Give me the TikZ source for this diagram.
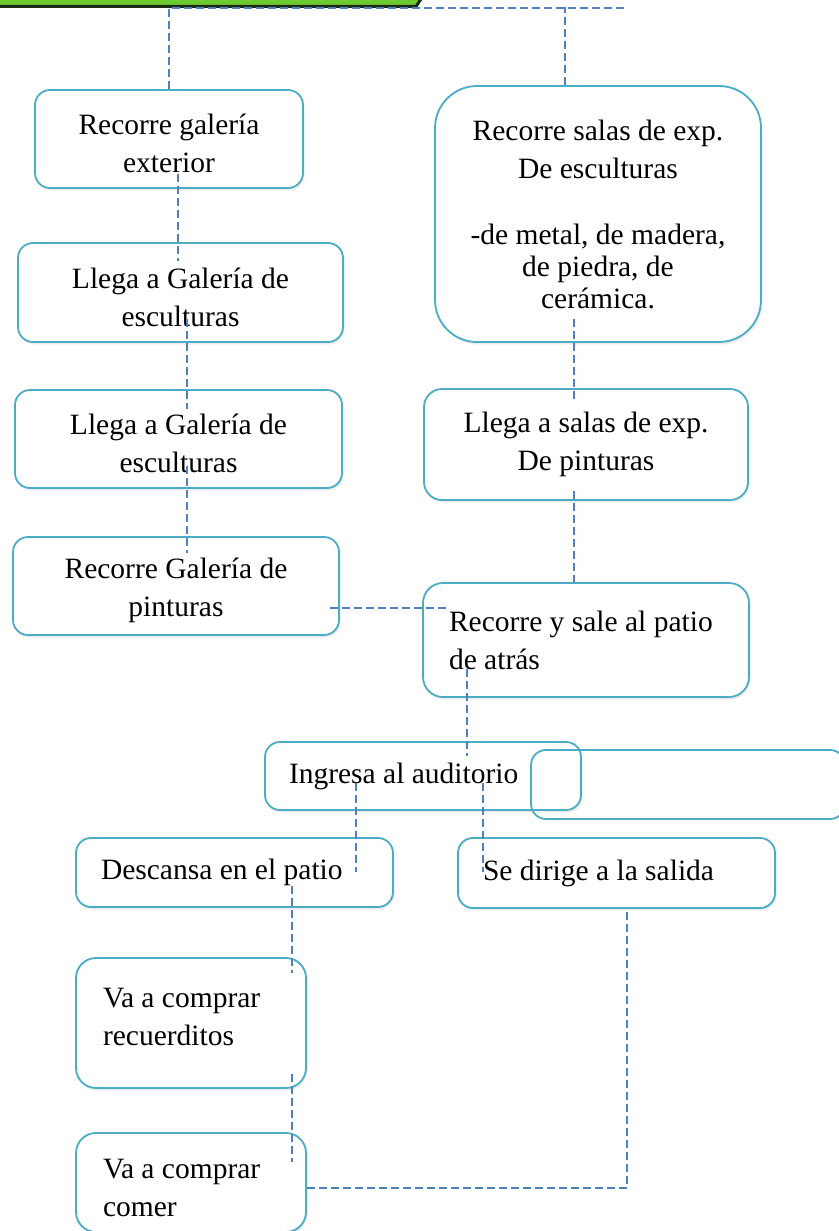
\documentclass[tikz,border=0pt]{standalone}
\usepackage{fontspec}
\setmainfont{Liberation Serif}
\usepackage{xcolor}
\definecolor{cBox}{HTML}{4BACC6}
\definecolor{cLink}{HTML}{4F81BD}
\definecolor{cGreen}{HTML}{6CC92E}
\definecolor{cDark}{HTML}{1B2A12}
\usepackage{tikz}
\usetikzlibrary{positioning,calc,shadows}
\newcommand{\bajar}{\rule{0pt}{30pt}}
\tikzset{
  node-box/.style={draw=cBox,line width=1.8pt,fill=white,rounded corners=15pt,
    inner sep=0pt,align=center,font=\fontsize{29.5}{38}\selectfont,
    drop shadow={shadow xshift=1.5pt,shadow yshift=-2.5pt,opacity=.15}},
  % caja con texto a la izquierda: #1 = margen horizontal
  node-box-left/.style={node-box,align=flush left,inner xsep=#1},
  node-low/.style={execute at begin node={\bajar}},
  node-empty/.style={draw=cBox,line width=1.8pt,rounded corners=15pt,inner sep=0pt},
  link-dashed/.style={draw=cLink,line width=2.2pt,dash pattern=on 8pt off 4pt},
}

\begin{document}
\begin{tikzpicture}[x=1pt,y=-1pt]
  \useasboundingbox (0,0) rectangle (838,1231);
  % barra verde recortada arriba
  \fill[cGreen] (0,-6) -- (423,-6) -- (417,5) -- (0,5) -- cycle;
  \draw[cDark,line width=3pt] (0,6.5) -- (416,6.5) -- (423,-4);
  \coordinate (fin) at (627,8);

  \node[node-box,minimum width=268pt,minimum height=98pt] (galext) at (169,139)
    {\bajar Recorre galería\\exterior};
  \node[node-box,minimum width=325pt,minimum height=99pt] (llega1) at (180.5,292.5)
    {\bajar Llega a Galería de\\esculturas};
  \node[node-box,minimum width=327pt,minimum height=98pt] (llega2) at (178.5,439)
    {\bajar Llega a Galería de\\esculturas};
  \node[node-box,minimum width=326pt,minimum height=98pt] (recpint) at (176,586)
    {\bajar Recorre Galería de\\pinturas};
  \node[node-box,rounded corners=42pt,minimum width=326pt,minimum height=256pt] (salasesc) at (598,214)
    {Recorre salas de exp.\\De esculturas\\[28pt]-de metal, de madera,\\[-6pt]de piedra, de\\[-6pt]cerámica.};
  \node[node-box,rounded corners=18pt,minimum width=324pt,minimum height=111pt] (salaspint) at (586,444.5)
    {Llega a salas de exp.\\De pinturas};
  \node[node-box-left=26pt,rounded corners=20pt,text width=274pt,minimum height=114pt] (recpatio) at (586,640)
    {Recorre y sale al patio\\de atrás};
  \node[node-box-left=24pt,text width=268pt,minimum height=68pt] (auditorio) at (423,776)
    {Ingresa al auditorio};
  \node[node-empty,minimum width=314pt,minimum height=69pt] (vacio) at (688,784.5) {};
  \node[node-box-left=25pt,text width=267pt,minimum height=69pt] (descansa) at (234.5,872.5)
    {Descansa en el patio};
  \node[node-box-left=25pt,text width=267pt,minimum height=70pt] (salida) at (616.5,873)
    {Se dirige a la salida};
  \node[node-box-left=27pt,node-low,rounded corners=20pt,text width=176pt,minimum height=130pt] (recuerdos) at (191,1023)
    {Va a comprar\\recuerditos\\[-15pt]\mbox{}};
  \node[node-box-left=27pt,node-low,rounded corners=20pt,text width=176pt,minimum height=99pt] (comer) at (191,1182.5)
    {Va a comprar\\comer};

  \draw[link-dashed] (galext.north) |- (fin);
  \draw[link-dashed] ($(salasesc.north)+(-33,0)$) -- ($(salasesc.north)+(-33,-78)$);
  \draw[link-dashed] ($(galext.south)+(9,-15)$) -- ($(llega1.north)+(-2.5,19)$);
  \draw[link-dashed] ($(llega1.south)+(6.5,-24)$) -- ($(llega2.north)+(8.5,20)$);
  \draw[link-dashed] ($(llega2.south)+(8.5,-23)$) -- ($(recpint.north)+(11,17)$);
  \draw[link-dashed] ($(recpint.east)+(-10,22)$) -- ($(recpatio.west)+(27,-32)$);
  \draw[link-dashed] ($(salasesc.south)+(-24,-24)$) -- ($(salaspint.north)+(-12,11)$);
  \draw[link-dashed] ($(salaspint.south)+(-12,-10)$) -- ($(recpatio.north)+(-12,0)$);
  \draw[link-dashed] ($(recpatio.south)+(-119,-29)$) -- ($(auditorio.north)+(44,15)$);
  \draw[link-dashed] ($(auditorio.south)+(-67,-28)$) -- ($(descansa.north)+(121.5,35)$);
  \draw[link-dashed] ($(auditorio.south)+(60,-28)$) -- ($(salida.north)+(-133.5,35)$);
  \draw[link-dashed] ($(descansa.south)+(57.5,-22)$) -- ($(recuerdos.north)+(101,16)$);
  \draw[link-dashed] ($(recuerdos.south)+(101,-15)$) -- ($(comer.north)+(101,30)$);
  \draw[link-dashed] ($(comer.east)+(0,5.5)$) -| ($(salida.south)+(10.5,0)$);
\end{tikzpicture}
\end{document}
